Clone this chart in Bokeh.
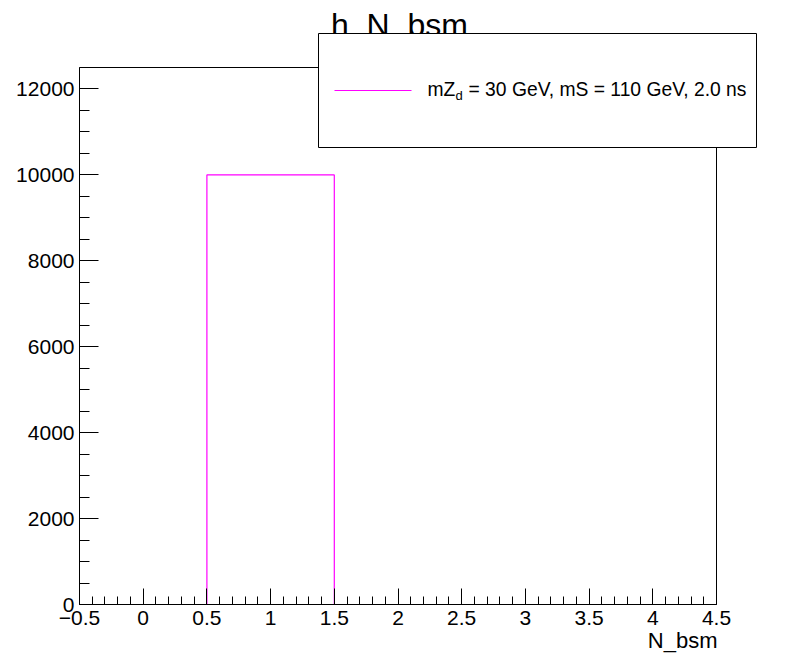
from bokeh.plotting import figure
from bokeh.models import Range1d, FixedTicker, LinearAxis, Label, BoxAnnotation
from bokeh.embed import file_html
from bokeh.resources import INLINE
import numpy as np

# ---- data ----
bin_edges = [-0.5, 0.5, 1.5, 2.5, 3.5, 4.5]
counts = [0, 10000, 0, 0, 0]
x_major_ticks = [-0.5, 0, 0.5, 1, 1.5, 2, 2.5, 3, 3.5, 4, 4.5]
x_tick_labels = ["\u22120.5", "0", "0.5", "1", "1.5", "2", "2.5", "3", "3.5", "4", "4.5"]
y_major_ticks = [0, 2000, 4000, 6000, 8000, 10000, 12000]
x_lo, x_hi = -0.5, 4.5
y_lo, y_hi = 0, 12500
title_text = "h_N_bsm"
x_title = "N_bsm"
legend_main = "mZ"
legend_sub = "d"
legend_rest = "= 30 GeV, mS = 110 GeV, 2.0 ns"
hist_color = "#ff00ff"

FONT = "Liberation Sans"

# ---- layout (canvas pixels) ----
W, H = 780, 656
FL, FR, FT, FB = 79, 716, 67, 604   # ROOT frame edges on the canvas
ppx = (FR - FL) / (x_hi - x_lo)
ppy = (FB - FT) / (y_hi - y_lo)
xr = Range1d(x_lo - FL / ppx, x_hi + (W - FR) / ppx)
yr = Range1d(y_lo - (H - FB) / ppy, y_hi + FT / ppy)

# step outline from bin edges / counts
sx, sy = [bin_edges[0]], [0]
for i, c in enumerate(counts):
    sx += [bin_edges[i], bin_edges[i + 1]]
    sy += [c, c]
sx.append(bin_edges[-1]); sy.append(0)

p = figure(width=W, height=H, output_backend="svg", toolbar_location=None,
           x_range=xr, y_range=yr, min_border=0,
           x_axis_type=None, y_axis_type=None)
p.background_fill_color = "white"
p.border_fill_color = "white"
p.outline_line_color = None

p.line(sx, sy, line_color=hist_color, line_width=1.2)

x_minor = [round(v, 2) for v in np.arange(x_lo, x_hi + 1e-6, 0.1)]
y_minor = list(range(y_lo, y_hi + 1, 500))

xaxis = LinearAxis(ticker=FixedTicker(ticks=x_major_ticks, minor_ticks=x_minor),
                   fixed_location=y_lo, bounds=(x_lo, x_hi))
xaxis.major_label_overrides = {t: l for t, l in zip(x_major_ticks, x_tick_labels)}
yaxis = LinearAxis(ticker=FixedTicker(ticks=y_major_ticks, minor_ticks=y_minor),
                   fixed_location=x_lo, bounds=(y_lo, y_hi))
for ax in (xaxis, yaxis):
    ax.axis_line_color = "black"
    ax.axis_line_width = 1
    ax.major_tick_line_color = "black"
    ax.minor_tick_line_color = "black"
    ax.major_tick_out = 0
    ax.minor_tick_out = 0
    ax.major_label_text_font = FONT
    ax.major_label_text_font_size = "21px"
    ax.major_label_text_color = "black"
xaxis.major_tick_in = 16
xaxis.minor_tick_in = 8
xaxis.major_label_standoff = 6
yaxis.major_tick_in = 19
yaxis.minor_tick_in = 10
yaxis.major_label_standoff = 5
p.add_layout(xaxis, "below")
p.add_layout(yaxis, "left")

top_ax = LinearAxis(ticker=FixedTicker(ticks=[]), fixed_location=y_hi, bounds=(x_lo, x_hi))
right_ax = LinearAxis(ticker=FixedTicker(ticks=[]), fixed_location=x_hi, bounds=(y_lo, y_hi))
for ax, loc in ((top_ax, "above"), (right_ax, "right")):
    ax.axis_line_color = "black"
    ax.major_tick_line_color = None
    ax.minor_tick_line_color = None
    ax.major_label_text_font_size = "0px"
    p.add_layout(ax, loc)

def lab(x, y, text, size, align="left"):
    # x, y given in canvas pixels from top-left
    p.add_layout(Label(x=x, y=H - y, x_units="screen", y_units="screen", text=text,
                       text_font=FONT, text_font_size=size, text_align=align,
                       text_baseline="alphabetic", text_color="black"))

# title (drawn before the legend box so the box covers its lower part)
lab(399, 24, title_text, "32px", "center")

# legend box
p.add_layout(BoxAnnotation(left=318, right=756, top=H - 33, bottom=H - 147,
                           left_units="screen", right_units="screen",
                           top_units="screen", bottom_units="screen",
                           fill_color="white", fill_alpha=1.0,
                           line_color="black", line_width=1, line_alpha=1.0))
p.add_layout(BoxAnnotation(left=334, right=411, top=H - 89.5, bottom=H - 90.5,
                           left_units="screen", right_units="screen",
                           top_units="screen", bottom_units="screen",
                           fill_color=hist_color, fill_alpha=1.0, line_color=None))
lab(427, 89, legend_main, "19.3px")
lab(455, 95, legend_sub, "13px")
lab(468, 89, legend_rest, "19.3px")

# x-axis title
lab(717, 640, x_title, "22px", "right")

open("out.html", "w").write(file_html(p, INLINE))
